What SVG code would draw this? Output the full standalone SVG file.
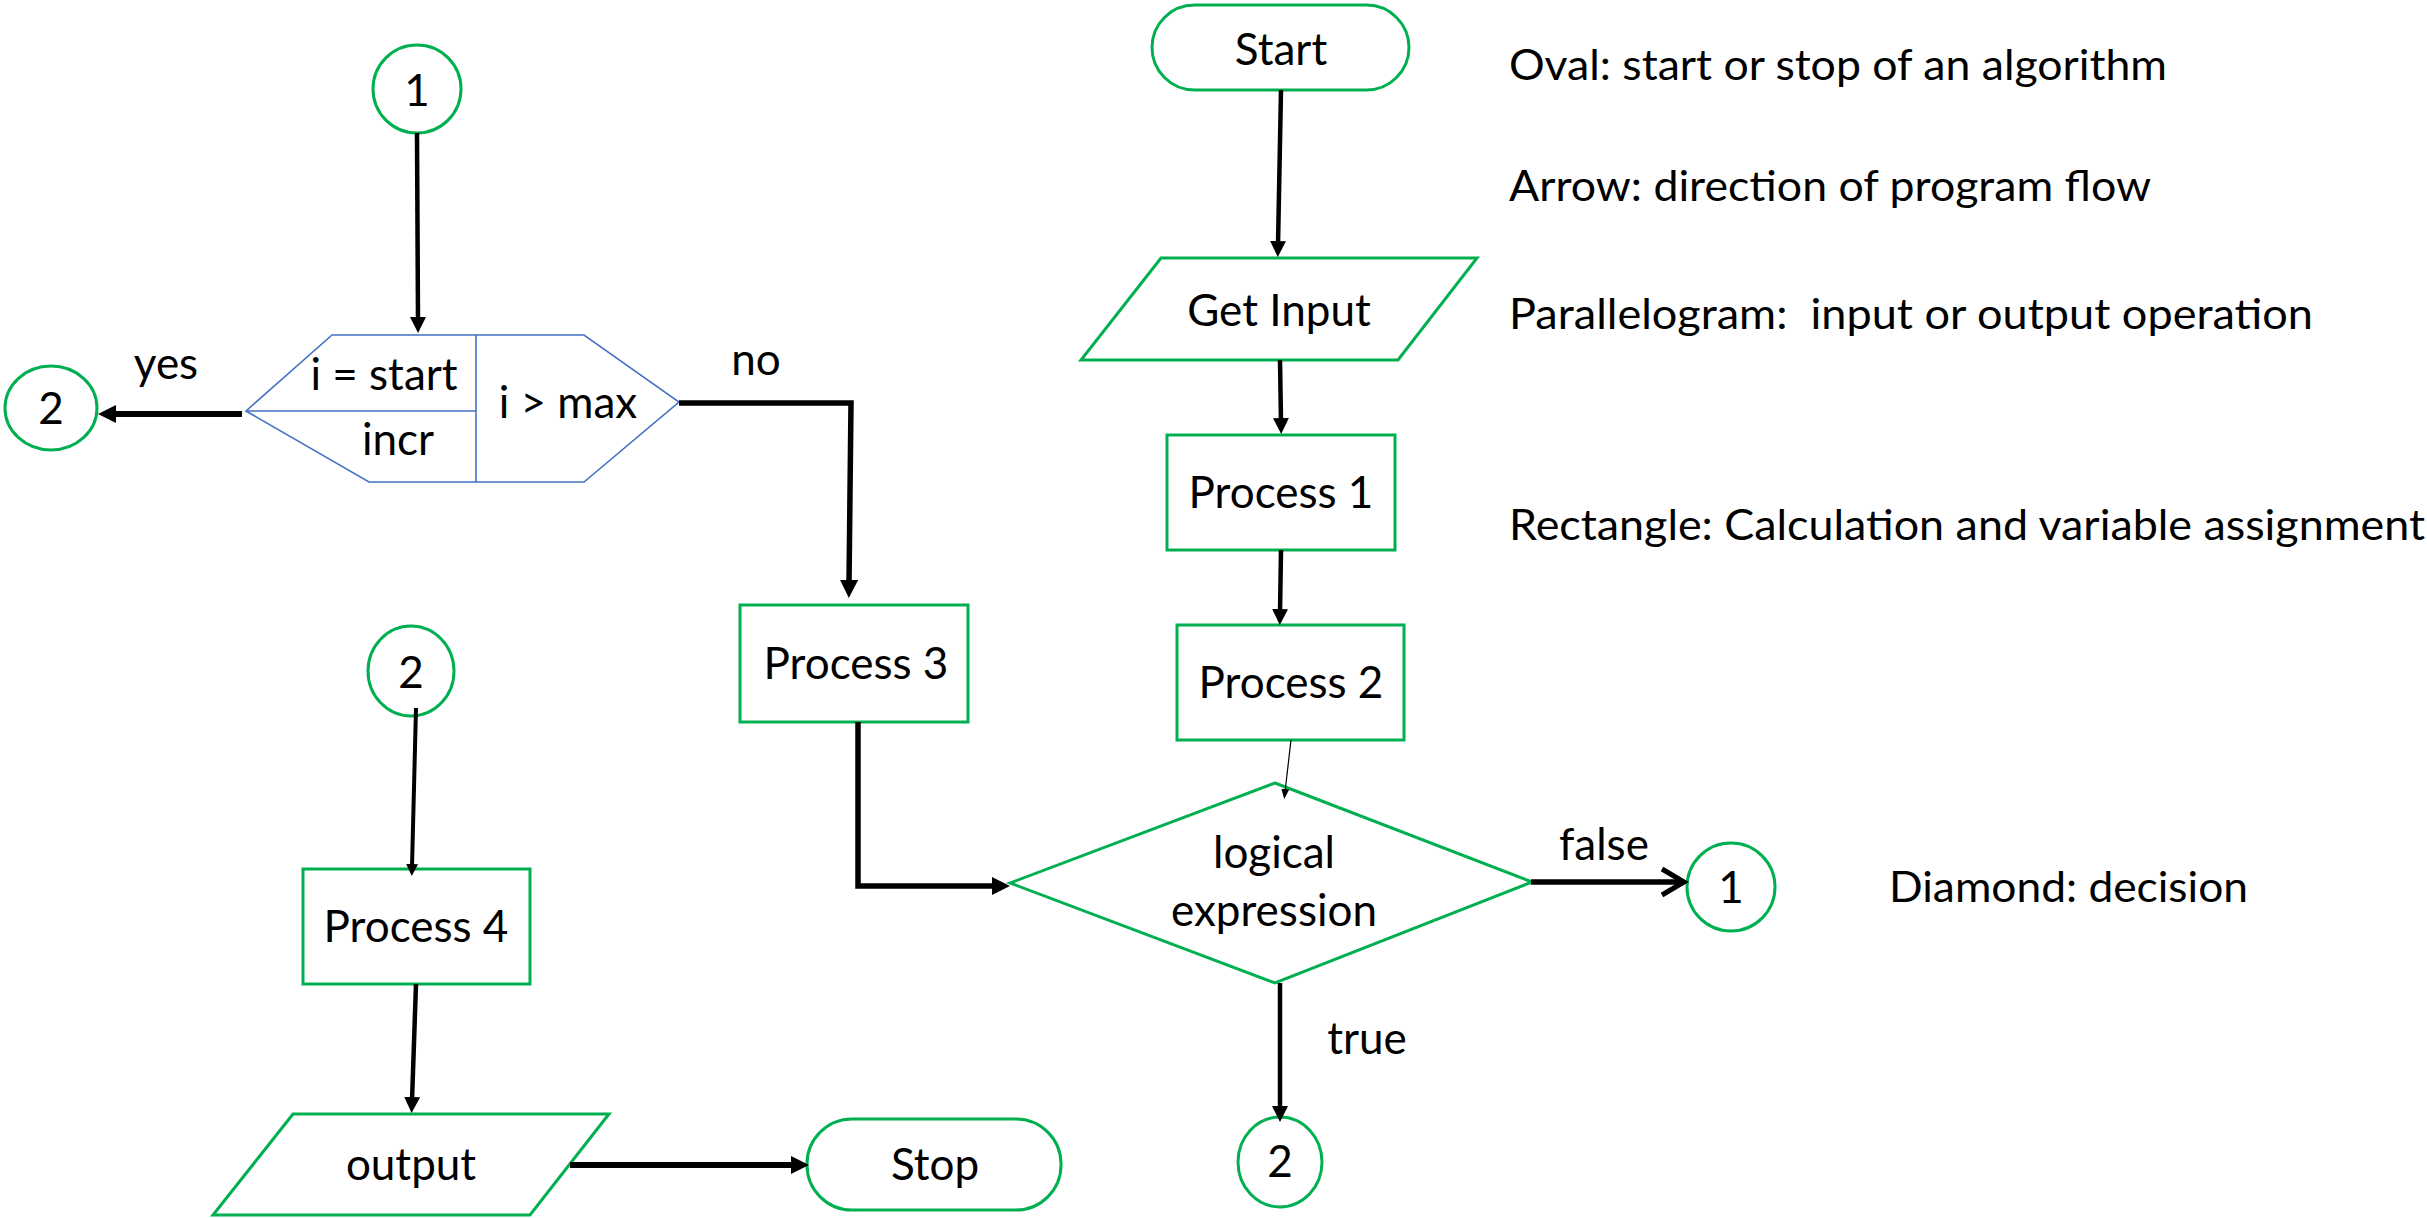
<svg xmlns="http://www.w3.org/2000/svg" width="2427" height="1218" viewBox="0 0 2427 1218">
<style>
  .g { fill: #fff; stroke: #00B050; stroke-width: 3; }
  .b { fill: none; stroke: #4472C4; stroke-width: 1.6; }
  .t { font-family: Lato, "Liberation Sans", sans-serif; font-size: 44px; fill: #000; text-anchor: middle; }
  .l { font-family: Lato, "Liberation Sans", sans-serif; font-size: 43px; fill: #000; white-space: pre; }
  .c { fill: none; stroke: #000; stroke-linejoin: miter; }
</style>
<defs>
  <marker id="ah" viewBox="0 0 16 16" refX="4" refY="8" markerWidth="16" markerHeight="16" orient="auto" markerUnits="userSpaceOnUse"><path d="M0,0 L16,8 L0,16 z" fill="#000"/></marker>
  <marker id="ahl" viewBox="0 0 18 18" refX="4" refY="9" markerWidth="18" markerHeight="18" orient="auto" markerUnits="userSpaceOnUse"><path d="M0,0 L18,9 L0,18 z" fill="#000"/></marker>
  <marker id="ahm" viewBox="0 0 12 12" refX="3" refY="6" markerWidth="12" markerHeight="12" orient="auto" markerUnits="userSpaceOnUse"><path d="M0,0 L12,6 L0,12 z" fill="#000"/></marker>
  <marker id="ahs" viewBox="0 0 10 8" refX="3" refY="4" markerWidth="10" markerHeight="8" orient="auto" markerUnits="userSpaceOnUse"><path d="M0,0 L10,4 L0,8 z" fill="#000"/></marker>
  <marker id="chev" viewBox="0 0 24 28" refX="22" refY="14" markerWidth="24" markerHeight="28" orient="auto" markerUnits="userSpaceOnUse" overflow="visible"><path d="M0,1 L22,14 L0,27" fill="none" stroke="#000" stroke-width="5"/></marker>
</defs>
<rect width="2427" height="1218" fill="#fff"/>

<g id="conn1-top"><ellipse class="g" cx="417" cy="89" rx="44" ry="44"/><text class="t" x="417" y="106">1</text></g>
<g id="conn2-left"><ellipse class="g" cx="51" cy="408" rx="46" ry="42"/><text class="t" x="51" y="424">2</text></g>
<g id="loop">
  <polygon class="b" points="332,335 584,335 679,402 584,482 369,482 246,411"/>
  <line class="b" x1="246" y1="411" x2="476" y2="411"/>
  <line class="b" x1="476" y1="335" x2="476" y2="482"/>
  <text class="t" x="384" y="390">i = start</text>
  <text class="t" x="398" y="455">incr</text>
  <text class="t" x="568" y="418">i &gt; max</text>
</g>
<g id="label-yes"><text class="t" x="166" y="379">yes</text></g>
<g id="label-no"><text class="t" x="756" y="375">no</text></g>
<g id="conn2-mid"><ellipse class="g" cx="411" cy="671" rx="43" ry="45"/><text class="t" x="411" y="688">2</text></g>
<g id="process4"><rect class="g" x="303" y="869" width="227" height="115"/><text class="t" x="416" y="942">Process 4</text></g>
<g id="output"><polygon class="g" points="293,1114 609,1114 530,1215 213,1215"/><text class="t" x="411" y="1180">output</text></g>
<g id="stop"><rect class="g" x="807" y="1119" width="254" height="91" rx="45" ry="45"/><text class="t" x="935" y="1180">Stop</text></g>
<g id="process3"><rect class="g" x="740" y="605" width="228" height="117"/><text class="t" x="856" y="679">Process 3</text></g>
<g id="start"><rect class="g" x="1152" y="5" width="257" height="85" rx="42.5" ry="42.5"/><text class="t" x="1281" y="65">Start</text></g>
<g id="getinput"><polygon class="g" points="1161,258 1477,258 1398,360 1081,360"/><text class="t" x="1279" y="326">Get Input</text></g>
<g id="process1"><rect class="g" x="1167" y="435" width="228" height="115"/><text class="t" x="1281" y="508">Process 1</text></g>
<g id="process2"><rect class="g" x="1177" y="625" width="227" height="115"/><text class="t" x="1291" y="698">Process 2</text></g>
<g id="decision">
  <polygon class="g" points="1275,783 1532,882 1275,983 1010,883"/>
  <text class="t" x="1274" y="868">logical</text>
  <text class="t" x="1274" y="926">expression</text>
</g>
<g id="label-false"><text class="t" x="1604" y="860">false</text></g>
<g id="label-true"><text class="t" x="1367" y="1054">true</text></g>
<g id="conn1-right"><ellipse class="g" cx="1731" cy="887" rx="44" ry="44"/><text class="t" x="1731" y="903">1</text></g>
<g id="conn2-bottom"><ellipse class="g" cx="1280" cy="1162" rx="42" ry="45"/><text class="t" x="1280" y="1177">2</text></g>

<g id="legend">
  <text class="l" x="1509" y="80" textLength="658" lengthAdjust="spacingAndGlyphs">Oval: start or stop of an algorithm</text>
  <text class="l" x="1509" y="201" textLength="642" lengthAdjust="spacingAndGlyphs">Arrow: direction of program flow</text>
  <text class="l" x="1509" y="329" textLength="804" lengthAdjust="spacingAndGlyphs">Parallelogram:  input or output operation</text>
  <text class="l" x="1509" y="540" textLength="916" lengthAdjust="spacingAndGlyphs">Rectangle: Calculation and variable assignment</text>
  <text class="l" x="1889" y="902" textLength="359" lengthAdjust="spacingAndGlyphs">Diamond: decision</text>
</g>

<g id="connectors">
  <path class="c" d="M417,133 L418,321" stroke-width="4.5" marker-end="url(#ah)"/>
  <path class="c" d="M242,414 L112,414" stroke-width="6" marker-end="url(#ahl)"/>
  <path class="c" d="M679,403 L851,403 L849,584" stroke-width="5.5" marker-end="url(#ahl)"/>
  <path class="c" d="M858,722 L858,886 L996,886" stroke-width="5.5" marker-end="url(#ahl)"/>
  <path class="c" d="M1281,90 L1278,245" stroke-width="4.5" marker-end="url(#ah)"/>
  <path class="c" d="M1280,360 L1281,422" stroke-width="4.5" marker-end="url(#ah)"/>
  <path class="c" d="M1281,550 L1280,613" stroke-width="4.5" marker-end="url(#ah)"/>
  <path class="c" d="M1291,740 L1285,792" stroke-width="1.2" marker-end="url(#ahs)"/>
  <path class="c" d="M1531,882 L1684,882" stroke-width="5.5" marker-end="url(#chev)"/>
  <path class="c" d="M1280,983 L1280,1110" stroke-width="4.5" marker-end="url(#ah)"/>
  <path class="c" d="M416,708 L412,867" stroke-width="4" marker-end="url(#ahm)"/>
  <path class="c" d="M416,984 L412,1101" stroke-width="4.5" marker-end="url(#ah)"/>
  <path class="c" d="M570,1165 L795,1165" stroke-width="6" marker-end="url(#ahl)"/>
</g>
</svg>
